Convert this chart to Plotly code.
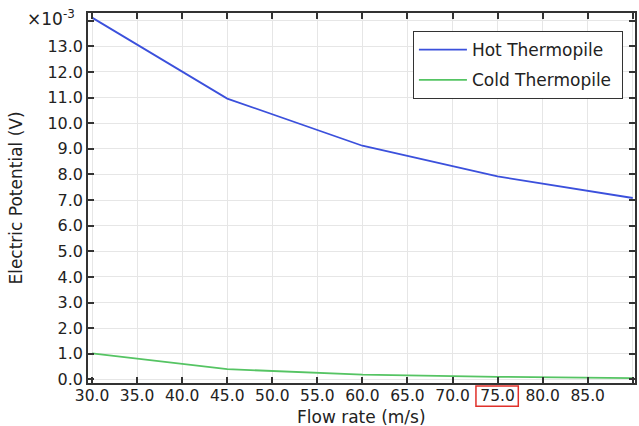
import plotly.graph_objects as go

# Flow rate (m/s) and electric potential (x1e-3 V) for both thermopiles
flow_rate = [30, 45, 60, 75, 90]
hot_potential = [14.12, 10.96, 9.12, 7.92, 7.08]
cold_potential = [1.02, 0.40, 0.19, 0.10, 0.05]

x_ticks = [30, 35, 40, 45, 50, 55, 60, 65, 70, 75, 80, 85]
x_ticktext = [f"{v:.1f}" for v in x_ticks]
x_extra_ticks = [90]
y_ticks = list(range(0, 14))
y_ticktext = [f"{v:.1f}" for v in y_ticks]
y_extra_ticks = [14]

FONT = "DejaVu Sans"
TXT = "#222222"
AX = "#333333"
GRID = "#e6e6e6"

fig = go.Figure()
fig.add_trace(go.Scatter(x=flow_rate, y=hot_potential, mode="lines",
                         name="Hot Thermopile", legendgroup="hot",
                         line=dict(color="#3b50dc", width=1.8)))
fig.add_trace(go.Scatter(x=flow_rate, y=cold_potential, mode="lines",
                         name="Cold Thermopile\u00a0", legendgroup="cold",
                         line=dict(color="#55c463", width=1.8)))

axis_common = dict(
    showline=True, linecolor=AX, linewidth=1.5, mirror="allticks",
    ticks="inside", ticklen=6, tickcolor=AX, tickwidth=1.5,
    showgrid=True, gridcolor=GRID, gridwidth=1, zeroline=False,
)

fig.update_layout(
    width=639, height=426,
    margin=dict(l=88, r=2, t=13, b=43),
    paper_bgcolor="white", plot_bgcolor="white",
    font=dict(family=FONT, size=16, color=TXT),
    showlegend=True,
    legend=dict(x=0.594, y=0.951, xanchor="left", yanchor="top",
                bgcolor="white", bordercolor=AX, borderwidth=1,
                font=dict(family=FONT, size=17, color=TXT),
                tracegroupgap=5, itemwidth=48),
    xaxis=dict(range=[29.55, 90.25], tickvals=x_ticks, ticktext=x_ticktext,
               tickfont=dict(family=FONT, size=15.5, color=TXT),
               ticklabelstandoff=-2,
               minor=dict(tickvals=x_extra_ticks, ticks="inside", ticklen=6,
                          tickcolor=AX, tickwidth=1.5, showgrid=True,
                          gridcolor=GRID),
               **axis_common),
    yaxis=dict(range=[-0.14, 14.3], tickvals=y_ticks, ticktext=y_ticktext,
               tickfont=dict(family=FONT, size=16, color=TXT),
               minor=dict(tickvals=y_extra_ticks, ticks="inside", ticklen=6,
                          tickcolor=AX, tickwidth=1.5, showgrid=True,
                          gridcolor=GRID),
               title=dict(text="Electric Potential (V)", standoff=20,
                          font=dict(family=FONT, size=17, color=TXT)),
               **axis_common),
)

# Flow-rate axis title, set tight under the tick labels
fig.add_annotation(xref="paper", yref="paper", x=0.5, y=-0.1205,
                   xanchor="center", yanchor="bottom", showarrow=False,
                   borderpad=0,
                   text="Flow rate (m/s)",
                   font=dict(family=FONT, size=17, color=TXT))

# Exponent label for the potential axis
fig.add_annotation(xref="paper", yref="paper", x=-0.02, y=0.986,
                   xanchor="right", yanchor="middle", showarrow=False,
                   text="×10<sup>-3</sup>",
                   font=dict(family=FONT, size=17, color=TXT))

# Highlight box around the 75.0 tick label
fig.add_shape(type="rect", xref="x", yref="paper",
              x0=72.6, x1=77.3, y0=-0.008, y1=-0.063,
              line=dict(color="#e0302a", width=1.5), fillcolor="rgba(0,0,0,0)")

fig.write_html("out.html")
